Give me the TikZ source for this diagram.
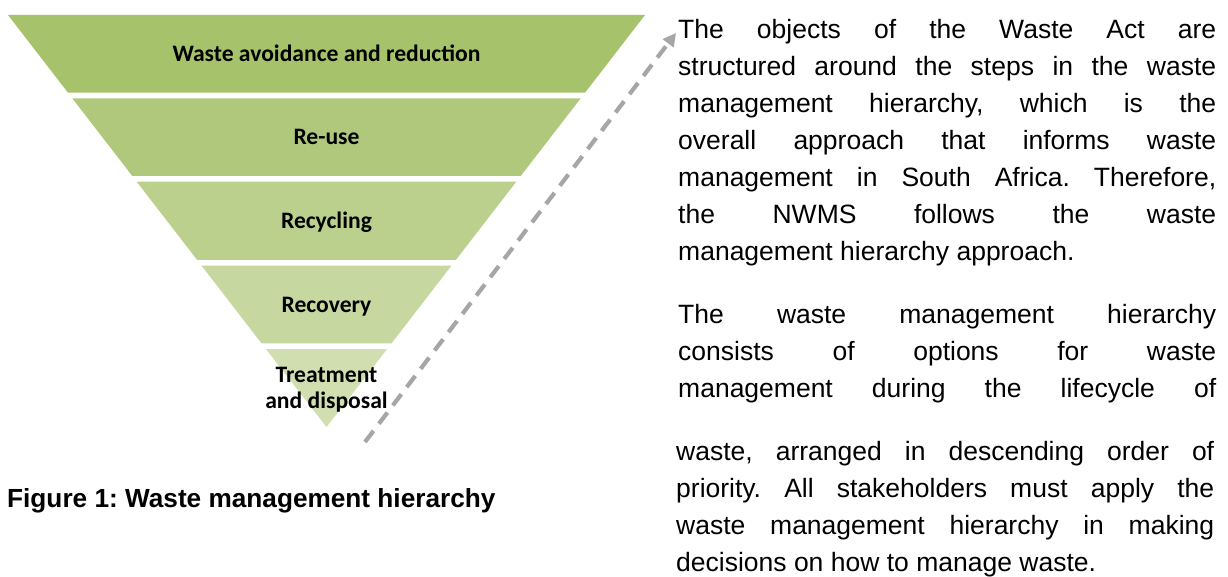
\documentclass[tikz,border=0pt]{standalone}
\usepackage{fontspec}
\setmainfont{Liberation Sans}
\newfontfamily\calib{Carlito}
\usetikzlibrary{arrows.meta}
\definecolor{bandA}{RGB}{166,194,107}
\definecolor{bandB}{RGB}{176,200,123}
\definecolor{bandC}{RGB}{188,208,142}
\definecolor{bandD}{RGB}{198,215,160}
\definecolor{bandE}{RGB}{208,222,176}
\definecolor{arrgray}{RGB}{166,166,166}
\frenchspacing
\tolerance=10000
\hyphenpenalty=10000
\begin{document}
\begin{tikzpicture}[x=1pt,y=-1pt,
  lbl/.style={font=\calib\bfseries\fontsize{23.6pt}{27pt}\selectfont, inner sep=0pt, anchor=base},
  para/.style={font=\fontsize{26.5pt}{37pt}\selectfont,
    text width=538pt, align=justify, inner sep=0pt, anchor=north west},
  capt/.style={font=\bfseries\fontsize{26.2pt}{30pt}\selectfont, inner sep=0pt, anchor=base west},
  flow/.style={arrgray, line width=4.2pt, dash pattern=on 14pt off 9pt,
    -{Triangle[length=13pt,width=13pt]}}]
\fill[white] (0,0) rectangle (1228,577);
\useasboundingbox (0,0) rectangle (1228,577);
% pyramid bands
\fill[bandA] (8,15) -- (645,15) -- (585,92.7) -- (68,92.7) -- cycle;
\fill[bandB] (72.3,98.3) -- (580.7,98.3) -- (520.7,176) -- (132.3,176) -- cycle;
\fill[bandC] (136.7,181.7) -- (516.3,181.7) -- (455.8,260) -- (197.2,260) -- cycle;
\fill[bandD] (201.6,265.7) -- (451.4,265.7) -- (391.5,343.3) -- (261.5,343.3) -- cycle;
\fill[bandE] (265.9,349) -- (387.1,349) -- (326.5,427) -- cycle;
% labels
\node[lbl] (l1) at (326.5,61.5) {Waste avoidance and reduction};
\node[lbl] (l2) at (326.5,144.5) {Re-use};
\node[lbl] (l3) at (326.5,228.5) {Recycling};
\node[lbl] (l4) at (326.5,312) {Recovery};
\node[lbl] (l5a) at (326.5,382) {Treatment};
\node[lbl] (l5b) at (326.5,408.5) {and disposal};
% arrow
\coordinate (arrS) at (365,442);
\coordinate (arrE) at (676,33);
\draw[flow] (arrS) -- (arrE);
% caption
\node[capt] (cap) at (7,507) {Figure 1: Waste management hierarchy};
% paragraphs
\node[para] (p1) at (678,12.1) {\strut The objects of the Waste Act are\linebreak
structured around the steps in the waste\linebreak
management hierarchy, which is the\linebreak
overall approach that informs waste\linebreak
management in South Africa. Therefore,\linebreak
the NWMS follows the waste\linebreak
management hierarchy approach.};
\node[para] (p2) at (678,297.1) {\strut The waste management hierarchy\linebreak
consists of options for waste\linebreak
\makebox[\linewidth][s]{management during the lifecycle of}};
\node[para] (p3) at (676,434.1) {\strut waste, arranged in descending order of\linebreak
priority. All stakeholders must apply the\linebreak
waste management hierarchy in making\linebreak
decisions on how to manage waste.};
\end{tikzpicture}
\end{document}
